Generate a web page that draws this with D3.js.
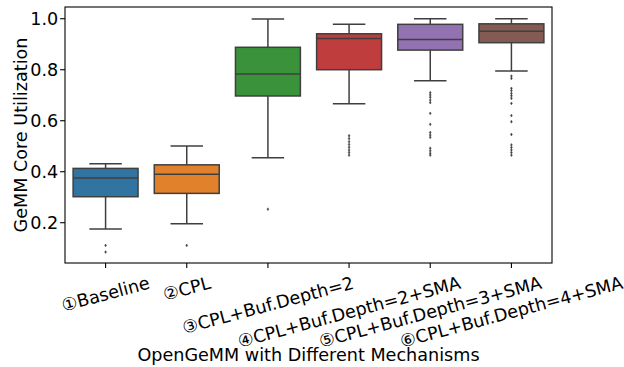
<!DOCTYPE html>
<html>
<head>
<meta charset="utf-8">
<script src="https://cdn.jsdelivr.net/npm/d3@7"></script>
<style>
  html, body { margin: 0; padding: 0; background: #fff; }
  svg text { font-family: "DejaVu Sans", sans-serif; fill: #000; }
</style>
</head>
<body>
<svg id="chart" width="624" height="367"></svg>
<script>
// ---- data ----
const categories = ["①Baseline", "②CPL", "③CPL+Buf.Depth=2", "④CPL+Buf.Depth=2+SMA", "⑤CPL+Buf.Depth=3+SMA", "⑥CPL+Buf.Depth=4+SMA"];
const whiskerLow  = [0.175, 0.196, 0.455, 0.667, 0.757, 0.795];
const q1          = [0.302, 0.315, 0.697, 0.800, 0.877, 0.906];
const medians     = [0.375, 0.390, 0.783, 0.922, 0.919, 0.951];
const q3          = [0.413, 0.427, 0.888, 0.941, 0.978, 0.980];
const whiskerHigh = [0.431, 0.501, 0.999, 0.978, 1.000, 1.000];
const fliers = [
  [0.111, 0.085],
  [0.111],
  [0.253],
  [0.541, 0.530, 0.518, 0.507, 0.496, 0.485, 0.475, 0.465],
  [0.710, 0.701, 0.692, 0.681, 0.671, 0.629, 0.586, 0.554, 0.544, 0.535, 0.492, 0.482, 0.472, 0.465],
  [0.775, 0.766, 0.727, 0.718, 0.707, 0.698, 0.688, 0.668, 0.620, 0.596, 0.546, 0.505, 0.495, 0.485, 0.475, 0.465]
];
const colors = ["#3274a1", "#e1812c", "#3a923a", "#c03d3e", "#9372b2", "#845b53"];
const yTicks = [0.2, 0.4, 0.6, 0.8, 1.0];
const yLabel = "GeMM Core Utilization";
const xLabel = "OpenGeMM with Different Mechanisms";

// ---- layout ----
const svg = d3.select("#chart");
const L = 65, R = 552, T = 7, B = 263;
const FS = 17.6;
const lineCol = "#3f3f3f";

const x = d3.scaleBand().domain(categories).range([L, R]).paddingInner(0.2).paddingOuter(0.1);
const y = d3.scaleLinear().domain([0.042, 1.046]).range([B, T]);

const boxes = categories.map((c, i) => ({
  c, i, lo: whiskerLow[i], q1: q1[i], med: medians[i], q3: q3[i], hi: whiskerHigh[i], fl: fliers[i], col: colors[i]
}));

const g = svg.append("g");
const bw = x.bandwidth();
boxes.forEach(d => {
  const cx = x(d.c) + bw / 2;
  g.append("line").attr("x1", cx).attr("x2", cx).attr("y1", y(d.q1)).attr("y2", y(d.lo))
    .attr("stroke", lineCol).attr("stroke-width", 1.5);
  g.append("line").attr("x1", cx).attr("x2", cx).attr("y1", y(d.q3)).attr("y2", y(d.hi))
    .attr("stroke", lineCol).attr("stroke-width", 1.5);
  [d.lo, d.hi].forEach(v => {
    g.append("line").attr("x1", cx - bw / 4).attr("x2", cx + bw / 4).attr("y1", y(v)).attr("y2", y(v))
      .attr("stroke", lineCol).attr("stroke-width", 1.5);
  });
  g.append("rect").attr("x", x(d.c)).attr("width", bw)
    .attr("y", y(d.q3)).attr("height", y(d.q1) - y(d.q3))
    .attr("fill", d.col).attr("stroke", lineCol).attr("stroke-width", 1.5);
  g.append("line").attr("x1", x(d.c)).attr("x2", x(d.c) + bw).attr("y1", y(d.med)).attr("y2", y(d.med))
    .attr("stroke", lineCol).attr("stroke-width", 1.5);
  g.selectAll(null).data(d.fl).enter().append("path")
    .attr("d", v => `M${cx},${y(v) - 1.4}L${cx + 0.9},${y(v)}L${cx},${y(v) + 1.4}L${cx - 0.9},${y(v)}Z`)
    .attr("fill", lineCol).attr("stroke", lineCol).attr("stroke-width", 0.5);
});

// ---- axes frame ----
svg.append("rect").attr("x", L).attr("y", T).attr("width", R - L).attr("height", B - T)
  .attr("fill", "none").attr("stroke", "#000").attr("stroke-width", 1.1);

const tickLen = 4.9, pad = 4.9;
yTicks.forEach(v => {
  svg.append("line").attr("x1", L - tickLen).attr("x2", L).attr("y1", y(v)).attr("y2", y(v))
    .attr("stroke", "#000").attr("stroke-width", 1.1);
  svg.append("text").attr("x", L - tickLen - pad + 3).attr("y", y(v)).attr("dy", "0.36em")
    .attr("text-anchor", "end").attr("font-size", FS).text(v.toFixed(1));
});

const ang = 15 * Math.PI / 180;
const topY = B + tickLen + pad;
categories.forEach(c => {
  const cx = x(c) + bw / 2;
  svg.append("line").attr("x1", cx).attr("x2", cx).attr("y1", B).attr("y2", B + tickLen)
    .attr("stroke", "#000").attr("stroke-width", 1.1);
  const gg = svg.append("g");
  const t = gg.append("text").attr("text-anchor", "middle").attr("font-size", FS).text(c);
  const bb = t.node().getBBox();
  const w = bb.width, h = bb.height;
  const H = w * Math.sin(ang) + h * Math.cos(ang);
  t.attr("y", -(bb.y + bb.height / 2));
  gg.attr("transform", `translate(${cx},${topY + H / 2}) rotate(-15)`);
});

svg.append("text").attr("x", (L + R) / 2).attr("y", 361).attr("text-anchor", "middle")
  .attr("font-size", FS).text(xLabel);
svg.append("text").attr("transform", `translate(27,${(T + B) / 2}) rotate(-90)`)
  .attr("text-anchor", "middle").attr("font-size", FS).text(yLabel);
</script>
</body>
</html>
